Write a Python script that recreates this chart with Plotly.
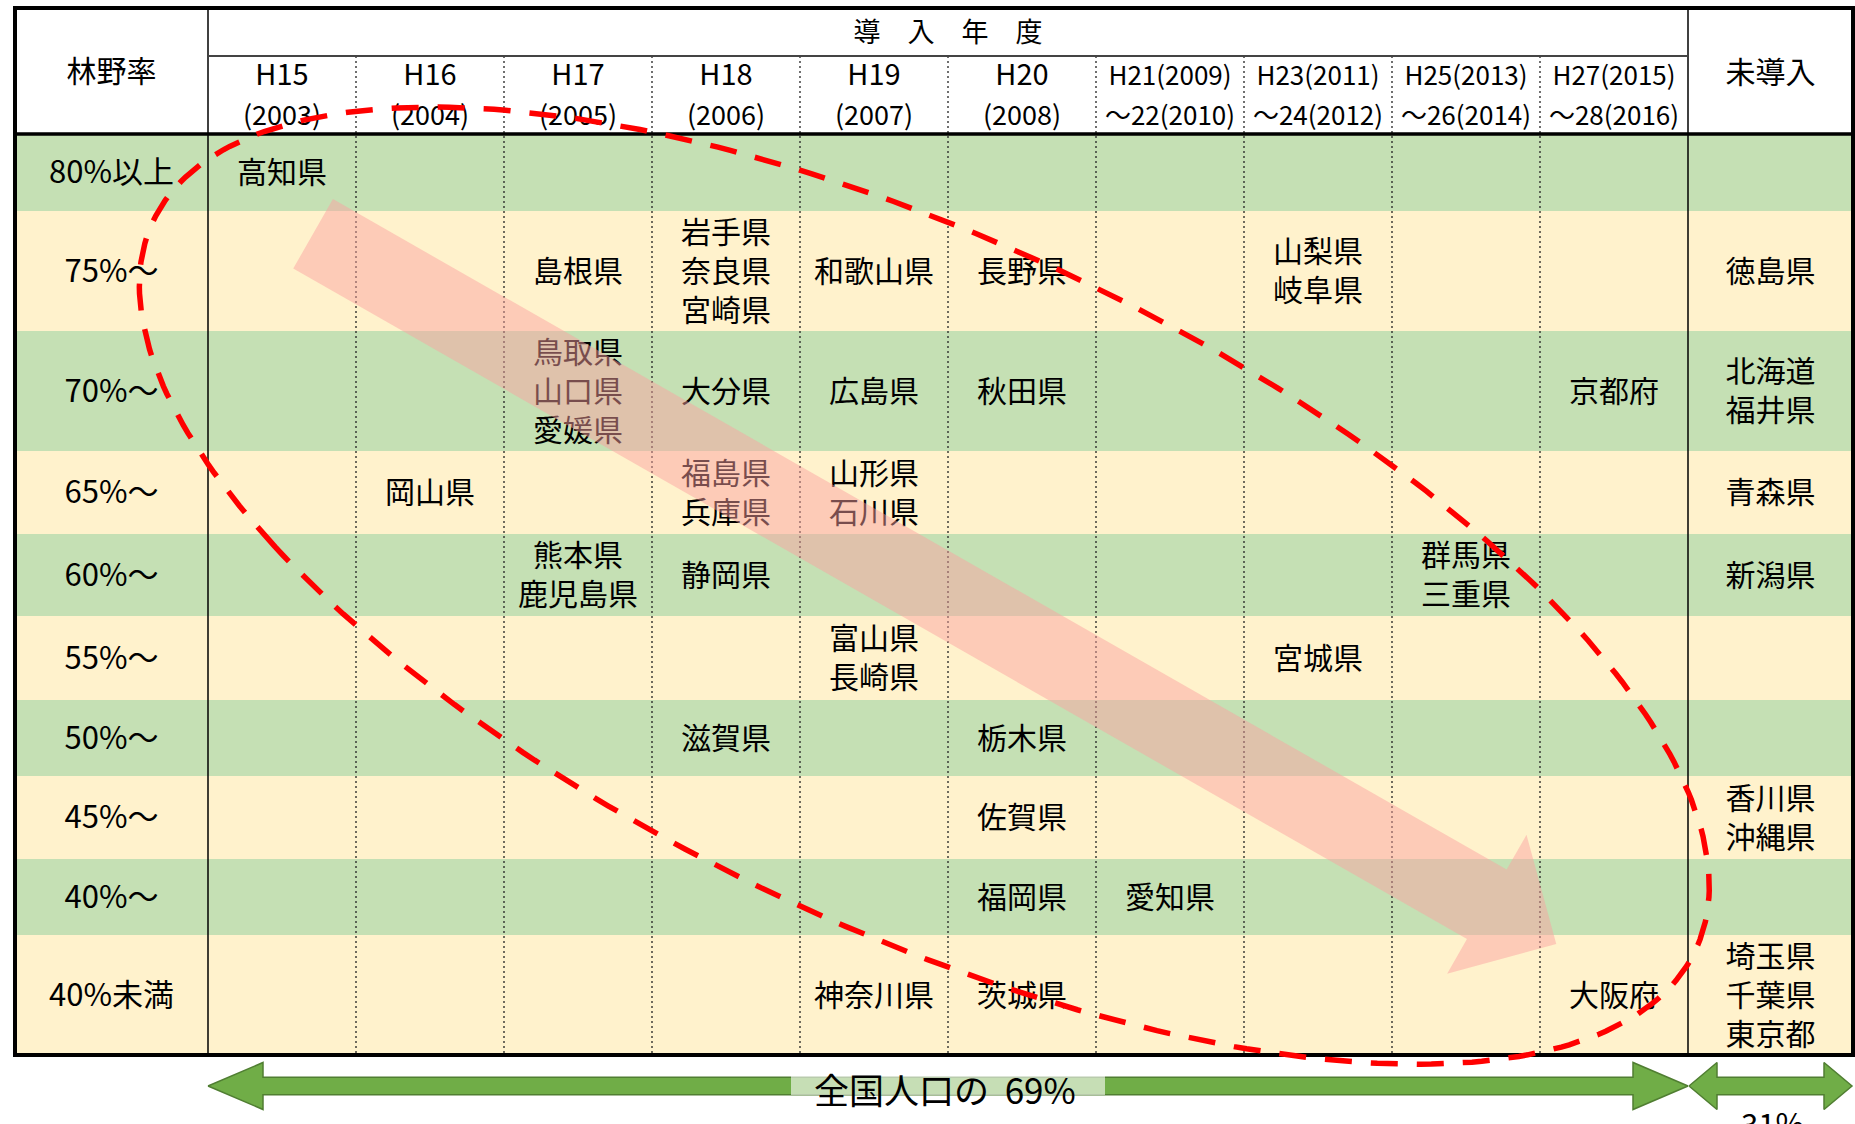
import math
import plotly.graph_objects as go

# ---------------------------------------------------------------- data
forest_bands = ["80%以上", "75%～", "70%～", "65%～", "60%～",
                "55%～", "50%～", "45%～", "40%～", "40%未満"]

period_keys = ["H15", "H16", "H17", "H18", "H19", "H20",
               "H21-22", "H23-24", "H25-26", "H27-28"]
period_head_top = ["H15", "H16", "H17", "H18", "H19", "H20",
                   "H21(2009)", "H23(2011)", "H25(2013)", "H27(2015)"]
period_head_bottom = ["(2003)", "(2004)", "(2005)", "(2006)", "(2007)", "(2008)",
                      "～22(2010)", "～24(2012)", "～26(2014)", "～28(2016)"]
NOT_INTRODUCED = "未導入"

prefectures = ["高知県",
               "島根県", "岩手県", "奈良県", "宮崎県", "和歌山県", "長野県", "山梨県", "岐阜県", "徳島県",
               "鳥取県", "山口県", "愛媛県", "大分県", "広島県", "秋田県", "京都府", "北海道", "福井県",
               "岡山県", "福島県", "兵庫県", "山形県", "石川県", "青森県",
               "熊本県", "鹿児島県", "静岡県", "群馬県", "三重県", "新潟県",
               "富山県", "長崎県", "宮城県",
               "滋賀県", "栃木県",
               "佐賀県", "香川県", "沖縄県",
               "福岡県", "愛知県",
               "神奈川県", "茨城県", "大阪府", "埼玉県", "千葉県", "東京都"]
pref_band = ["80%以上",
             "75%～", "75%～", "75%～", "75%～", "75%～", "75%～", "75%～", "75%～", "75%～",
             "70%～", "70%～", "70%～", "70%～", "70%～", "70%～", "70%～", "70%～", "70%～",
             "65%～", "65%～", "65%～", "65%～", "65%～", "65%～",
             "60%～", "60%～", "60%～", "60%～", "60%～", "60%～",
             "55%～", "55%～", "55%～",
             "50%～", "50%～",
             "45%～", "45%～", "45%～",
             "40%～", "40%～",
             "40%未満", "40%未満", "40%未満", "40%未満", "40%未満", "40%未満"]
pref_period = ["H15",
               "H17", "H18", "H18", "H18", "H19", "H20", "H23-24", "H23-24", "未導入",
               "H17", "H17", "H17", "H18", "H19", "H20", "H27-28", "未導入", "未導入",
               "H16", "H18", "H18", "H19", "H19", "未導入",
               "H17", "H17", "H18", "H25-26", "H25-26", "未導入",
               "H19", "H19", "H23-24",
               "H18", "H20",
               "H20", "未導入", "未導入",
               "H20", "H21-22",
               "H19", "H20", "H27-28", "未導入", "未導入", "未導入"]

# share of national population (%)
pop_share_introduced = 69
pop_share_not_introduced = 31

# ---------------------------------------------------------------- layout
W, H = 1855, 1124
FONT = "Noto Sans CJK JP"
GREEN_BAND = "#C5E0B4"
CREAM_BAND = "#FFF2CC"

TABLE_LEFT, TABLE_TOP = 15, 8
LABEL_COL_W, PERIOD_COL_W, REST_COL_W = 193, 148, 165
HEAD_TITLE_H, HEAD_PERIOD_H = 48, 78
ROW_H = [77, 120, 120, 83, 82, 84, 76, 83, 76, 120]
TEXT_DY = 3  # nudge so glyphs sit centred in their cells

x_edges = [TABLE_LEFT, TABLE_LEFT + LABEL_COL_W]
for _ in period_keys:
    x_edges.append(x_edges[-1] + PERIOD_COL_W)
x_edges.append(x_edges[-1] + REST_COL_W)
TABLE_RIGHT = x_edges[-1]
head_mid = TABLE_TOP + HEAD_TITLE_H
head_bottom = head_mid + HEAD_PERIOD_H
y_edges = [head_bottom]
for h in ROW_H:
    y_edges.append(y_edges[-1] + h)
TABLE_BOTTOM = y_edges[-1]

col_keys = period_keys + [NOT_INTRODUCED]
col_center = {k: (x_edges[i + 1] + x_edges[i + 2]) / 2 for i, k in enumerate(col_keys)}
row_center = {b: (y_edges[i] + y_edges[i + 1]) / 2 + TEXT_DY for i, b in enumerate(forest_bands)}
label_x = (x_edges[0] + x_edges[1]) / 2


def anchor(col, row, fx, fy):
    """Point inside the table: column-edge/row-edge index plus fractional offset."""
    x0, x1 = x_edges[col], x_edges[col + 1]
    y0, y1 = y_edges[row], y_edges[row + 1]
    return x0 + fx * (x1 - x0), y0 + fy * (y1 - y0)


# ---------------------------------------------------------------- table frame
shapes = []
for i, band in enumerate(forest_bands):
    shapes.append(dict(type="rect", xref="x", yref="y", layer="below",
                       x0=TABLE_LEFT, x1=TABLE_RIGHT, y0=y_edges[i], y1=y_edges[i + 1],
                       fillcolor=GREEN_BAND if i % 2 == 0 else CREAM_BAND, line_width=0))
for i in range(1, len(period_keys)):
    xv = x_edges[1 + i]
    shapes.append(dict(type="line", xref="x", yref="y", layer="below",
                       x0=xv, x1=xv, y0=head_mid, y1=TABLE_BOTTOM,
                       line=dict(color="#222222", width=1.3, dash="2px,3px")))
for xv in (x_edges[1], x_edges[-2]):
    shapes.append(dict(type="line", xref="x", yref="y", layer="below",
                       x0=xv, x1=xv, y0=TABLE_TOP, y1=TABLE_BOTTOM,
                       line=dict(color="black", width=1.5)))
shapes.append(dict(type="line", xref="x", yref="y", layer="below",
                   x0=x_edges[1], x1=x_edges[-2], y0=head_mid, y1=head_mid,
                   line=dict(color="#444444", width=1.8)))
shapes.append(dict(type="line", xref="x", yref="y", layer="below",
                   x0=TABLE_LEFT, x1=TABLE_RIGHT, y0=head_bottom, y1=head_bottom,
                   line=dict(color="black", width=3.5)))
shapes.append(dict(type="rect", xref="x", yref="y", layer="below",
                   x0=TABLE_LEFT, x1=TABLE_RIGHT, y0=TABLE_TOP, y1=TABLE_BOTTOM,
                   line=dict(color="black", width=4), fillcolor="rgba(0,0,0,0)"))

fig = go.Figure()


def add_text(xs, ys, texts, size):
    fig.add_trace(go.Scatter(x=xs, y=ys, text=texts, mode="text",
                             textposition="middle center", hoverinfo="skip",
                             cliponaxis=False, showlegend=False,
                             textfont=dict(family=FONT, size=size, color="black")))


# header
add_text([(x_edges[1] + x_edges[-2]) / 2], [(TABLE_TOP + head_mid) / 2 + 3], ["導　入　年　度"], 27)
add_text([label_x], [(TABLE_TOP + head_bottom) / 2 + 3], ["林野率"], 30)
add_text([col_center[NOT_INTRODUCED]], [(TABLE_TOP + head_bottom) / 2 + 4], [NOT_INTRODUCED], 30)
top_y = head_mid + 22
bot_y = head_mid + 62
add_text([col_center[k] for k in period_keys[:6]], [top_y] * 6, period_head_top[:6], 29)
add_text([col_center[k] for k in period_keys[:6]], [bot_y] * 6, period_head_bottom[:6], 27)
add_text([col_center[k] for k in period_keys[6:]], [top_y] * 4, period_head_top[6:], 26)
add_text([col_center[k] for k in period_keys[6:]], [bot_y] * 4, period_head_bottom[6:], 26)

# forest-ratio band labels
add_text([label_x] * len(forest_bands), [row_center[b] for b in forest_bands], forest_bands, 31)

# prefecture cells
cells = {}
for name, band, period in zip(prefectures, pref_band, pref_period):
    cells.setdefault((band, period), []).append(name)
cx, cy, ct = [], [], []
for (band, period), names in cells.items():
    cx.append(col_center[period])
    cy.append(row_center[band])
    ct.append("<br>".join(names))
add_text(cx, cy, ct, 30)

# translucent trend arrow (high forest ratio / early -> low ratio / late)
tail = anchor(1, 1, 0.71, 0.19)
tip = anchor(10, 9, 0.11, 0.075)
L = math.hypot(tip[0] - tail[0], tip[1] - tail[1])
ux, uy = (tip[0] - tail[0]) / L, (tip[1] - tail[1]) / L
nx, ny = -uy, ux
shaft_hw, head_hw, head_len = 40, 80, 80
neck = (tip[0] - ux * head_len, tip[1] - uy * head_len)
poly = [
    (tail[0] - nx * shaft_hw, tail[1] - ny * shaft_hw),
    (neck[0] - nx * shaft_hw, neck[1] - ny * shaft_hw),
    (neck[0] - nx * head_hw, neck[1] - ny * head_hw),
    tip,
    (neck[0] + nx * head_hw, neck[1] + ny * head_hw),
    (neck[0] + nx * shaft_hw, neck[1] + ny * shaft_hw),
    (tail[0] + nx * shaft_hw, tail[1] + ny * shaft_hw),
]
poly.append(poly[0])
fig.add_trace(go.Scatter(x=[p[0] for p in poly], y=[p[1] for p in poly],
                         mode="lines", fill="toself", fillcolor="rgba(250,160,160,0.48)",
                         line=dict(width=0, color="rgba(0,0,0,0)"),
                         hoverinfo="skip", showlegend=False))

# dashed outline around the introduced prefectures
ecx, ecy = anchor(5, 4, 0.84, 0.63)
ea, eb, eang = 853, 343, math.radians(25.3)
ex, ey = [], []
for k in range(361):
    t = math.radians(k) + math.pi * 0.75
    ex.append(ecx + ea * math.cos(eang) * math.cos(t) - eb * math.sin(eang) * math.sin(t))
    ey.append(ecy + ea * math.sin(eang) * math.cos(t) + eb * math.cos(eang) * math.sin(t))
fig.add_trace(go.Scatter(x=ex, y=ey, mode="lines",
                         line=dict(color="#FF0000", width=5.5, dash="27px,19px"),
                         hoverinfo="skip", showlegend=False))


# population double arrows under the table
def double_arrow(xl, xr, yc, head_len, shaft_h=8.7, head_h=23.5):
    pts = [(xl, yc), (xl + head_len, yc - head_h), (xl + head_len, yc - shaft_h),
           (xr - head_len, yc - shaft_h), (xr - head_len, yc - head_h), (xr, yc),
           (xr - head_len, yc + head_h), (xr - head_len, yc + shaft_h),
           (xl + head_len, yc + shaft_h), (xl + head_len, yc + head_h), (xl, yc)]
    fig.add_trace(go.Scatter(x=[p[0] for p in pts], y=[p[1] for p in pts],
                             mode="lines", fill="toself", fillcolor="#70AD47",
                             line=dict(color="#507E32", width=1.5),
                             hoverinfo="skip", showlegend=False))


arrow_y = TABLE_BOTTOM + 31
double_arrow(x_edges[1], x_edges[-2], arrow_y, 55)
double_arrow(x_edges[-2] + 1, TABLE_RIGHT - 1, arrow_y, 28)

big_mid = (x_edges[1] + x_edges[-2]) / 2
small_mid = (x_edges[-2] + TABLE_RIGHT) / 2
shapes.append(dict(type="rect", xref="x", yref="y", layer="above",
                   x0=big_mid - 157, x1=big_mid + 157, y0=arrow_y - 29, y1=arrow_y + 9,
                   fillcolor="rgba(255,255,255,0.6)", line_width=0))

annotations = [
    dict(x=big_mid - 3, y=arrow_y + 2, xref="x", yref="y", showarrow=False,
         text=f"全国人口の\u00a0\u00a0{pop_share_introduced}%",
         font=dict(family=FONT, size=35, color="black"), xanchor="center", yanchor="middle"),
    dict(x=small_mid + 2, y=arrow_y + 36, xref="x", yref="y", showarrow=False,
         text=f"{pop_share_not_introduced}%",
         font=dict(family=FONT, size=31, color="black"), xanchor="center", yanchor="middle"),
]

fig.update_layout(
    width=W, height=H, margin=dict(l=0, r=0, t=0, b=0, pad=0),
    paper_bgcolor="white", plot_bgcolor="white",
    xaxis=dict(range=[0, W], visible=False, fixedrange=True),
    yaxis=dict(range=[H, 0], visible=False, fixedrange=True),
    shapes=shapes, annotations=annotations, showlegend=False,
)

fig.write_html("out.html", config={"displayModeBar": False})
